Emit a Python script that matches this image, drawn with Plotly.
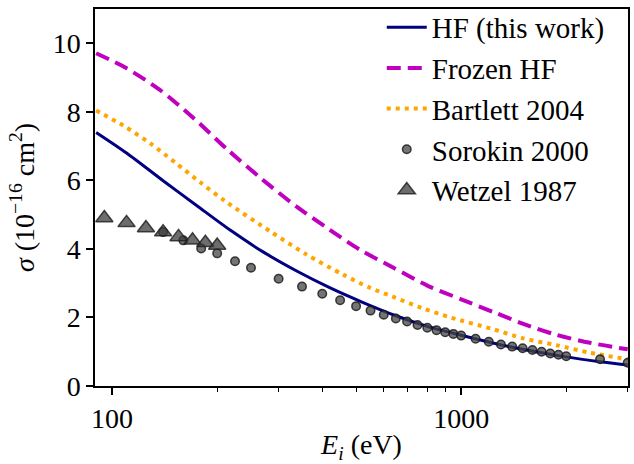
import plotly.graph_objects as go

# ---- data ----
hf_E = [90, 110, 140, 175, 220, 270, 340, 420, 520, 650, 800, 1000, 1250, 1500, 2000, 2500, 3000]
hf_sigma = [7.40, 6.80, 5.99, 5.26, 4.52, 3.92, 3.34, 2.87, 2.45, 2.05, 1.74, 1.48, 1.24, 1.07, 0.85, 0.71, 0.61]

frozen_E = [90, 110, 137, 171, 215, 270, 337, 420, 512, 640, 800, 1000, 1250, 1500, 1877, 2339, 3000]
frozen_sigma = [9.71, 9.27, 8.64, 7.82, 6.88, 6.02, 5.24, 4.56, 3.98, 3.45, 2.93, 2.53, 2.14, 1.82, 1.49, 1.26, 1.07]

bartlett_E = [90, 108, 129, 152, 179, 211, 283, 360, 459, 547, 632, 770, 939, 1222, 1506, 1877, 2339, 3000]
bartlett_sigma = [8.04, 7.59, 7.07, 6.51, 5.94, 5.39, 4.52, 3.84, 3.25, 2.87, 2.62, 2.28, 1.99, 1.67, 1.39, 1.19, 0.97, 0.78]

sorokin_E = [140, 160, 180, 200, 225, 250, 300, 350, 400, 450, 500, 550, 600, 650, 700, 750, 800,
             850, 900, 950, 1000, 1100, 1200, 1300, 1400, 1500, 1600, 1700, 1800, 1900, 2000, 2500, 3000]
sorokin_sigma = [4.49, 4.25, 4.01, 3.87, 3.64, 3.45, 3.13, 2.90, 2.69, 2.50, 2.33, 2.20, 2.08, 1.97, 1.88, 1.78, 1.70,
                 1.63, 1.57, 1.52, 1.47, 1.38, 1.29, 1.21, 1.15, 1.10, 1.05, 1.00, 0.95, 0.91, 0.87, 0.78, 0.68]

wetzel_E = [95, 110, 125, 140, 155, 170, 185, 200]
wetzel_sigma = [4.90, 4.76, 4.61, 4.49, 4.35, 4.25, 4.18, 4.10]

x_major = [100, 1000]
x_major_text = ["100", "1000"]
x_minor = [200, 300, 400, 500, 600, 700, 800, 900, 2000, 3000]
y_ticks = [0, 2, 4, 6, 8, 10]

FONT = "Liberation Serif"

fig = go.Figure()
fig.add_trace(go.Scatter(x=hf_E, y=hf_sigma, mode="lines", name="HF (this work)",
                         line=dict(color="#000080", width=3, shape="spline", smoothing=0.8),
                         legendgroup="a"))
fig.add_trace(go.Scatter(x=frozen_E, y=frozen_sigma, mode="lines", name="Frozen HF",
                         line=dict(color="#bf00bf", width=4, dash="14px,7px", shape="spline", smoothing=0.8),
                         legendgroup="b"))
fig.add_trace(go.Scatter(x=bartlett_E, y=bartlett_sigma, mode="lines", name="Bartlett 2004",
                         line=dict(color="#ffa500", width=4, dash="4px,5px", shape="spline", smoothing=0.8),
                         legendgroup="c"))
fig.add_trace(go.Scatter(x=sorokin_E, y=sorokin_sigma, mode="markers", name="Sorokin 2000",
                         marker=dict(symbol="circle", size=8.5, color="rgba(70,70,70,0.75)",
                                     line=dict(color="rgba(20,20,20,0.8)", width=1.5)),
                         legendgroup="d"))
fig.add_trace(go.Scatter(x=wetzel_E, y=wetzel_sigma, mode="markers", name="Wetzel 1987",
                         marker=dict(symbol="triangle-up", size=15, color="rgba(60,60,60,0.75)",
                                     line=dict(color="rgba(30,30,30,0.8)", width=1.5)),
                         legendgroup="e"))

fig.update_layout(
    width=634, height=464,
    margin=dict(l=95, r=6, t=9, b=78, autoexpand=False),
    paper_bgcolor="white", plot_bgcolor="white",
    font=dict(family=FONT, size=28, color="black"),
    showlegend=True,
    legend=dict(x=0.538, y=1.019, xanchor="left", yanchor="top",
                bgcolor="rgba(0,0,0,0)", borderwidth=0,
                font=dict(family=FONT, size=29),
                tracegroupgap=0, itemwidth=40),
)
fig.update_xaxes(type="log", range=[1.951, 3.478], automargin=False,
                 tickvals=x_major, ticktext=x_major_text,
                 ticks="outside", ticklen=7, tickwidth=1.5, tickcolor="black",
                 minor=dict(tickvals=x_minor, ticks="outside", ticklen=4, tickwidth=1.2, tickcolor="black", showgrid=False),
                 showline=True, mirror=True, linecolor="black", linewidth=1.5,
                 showgrid=False, zeroline=False,
                 title=dict(text="<i>E<sub>i</sub></i> (eV)", font=dict(size=28), standoff=4))
fig.update_yaxes(range=[0, 11], tickvals=y_ticks, automargin=False,
                 ticks="outside", ticklen=7, tickwidth=1.5, tickcolor="black",
                 showline=True, mirror=True, linecolor="black", linewidth=1.5,
                 showgrid=False, zeroline=False,
                 title=dict(text="<i>σ</i> (10<sup>−16</sup> cm<sup>2</sup>)", font=dict(size=28), standoff=10))

fig.write_html("out.html", config={"displayModeBar": False},
               post_script="document.body.style.margin='0';document.body.style.padding='0';")
